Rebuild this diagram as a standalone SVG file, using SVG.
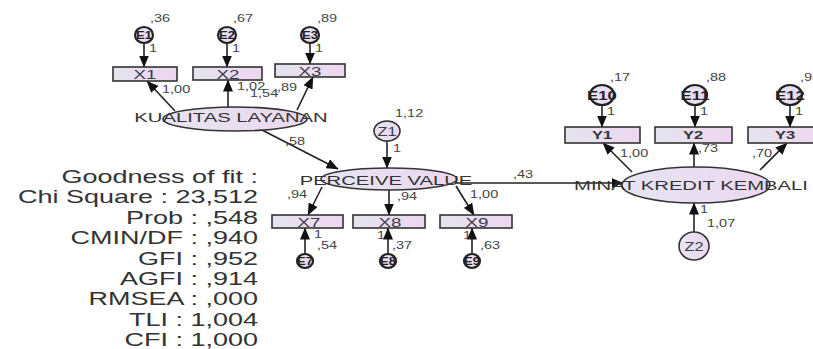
<svg xmlns="http://www.w3.org/2000/svg" width="813" height="349" viewBox="0 0 813 349">
  <defs>
    <linearGradient id="boxFill" x1="0" y1="0" x2="1" y2="0">
      <stop offset="0" stop-color="#e4e4ee"/>
      <stop offset="1" stop-color="#eed6f0"/>
    </linearGradient>
    <linearGradient id="ovalFill" x1="0" y1="0" x2="1" y2="0">
      <stop offset="0" stop-color="#e6e4f2"/>
      <stop offset="1" stop-color="#ecd8f0"/>
    </linearGradient>
    <marker id="arrow" viewBox="0 0 12 10" refX="11.5" refY="5" markerWidth="12" markerHeight="10" markerUnits="userSpaceOnUse" orient="auto">
      <path d="M0,0 L12,5 L0,10 Z" fill="#111"/>
    </marker>
    <style>
      .box { fill: url(#boxFill); stroke: #333; stroke-width: 1.6; }
      .oval { fill: url(#ovalFill); stroke: #333; stroke-width: 1.6; }
      .err { fill: url(#ovalFill); stroke: #222; stroke-width: 2.2; }
      .edge { fill: none; stroke: #222; stroke-width: 1.6; marker-end: url(#arrow); }
      text { font-family: "Liberation Sans", Arial, sans-serif; }
      .name { font-size: 13.5px; fill: #333; text-anchor: middle; }
      .var { font-size: 12.5px; fill: #3a3a4a; text-anchor: middle; }
      .yvar { font-size: 11px; font-weight: bold; fill: #333; text-anchor: middle; }
      .ename { font-size: 10px; font-weight: bold; fill: #222; text-anchor: middle; }
      .lbl { font-size: 10px; fill: #444; }
      .fit { font-size: 18px; fill: #333; text-anchor: end; }
    </style>
  </defs>

  <!-- path arrows -->
  <g id="connectors">
    <line class="edge" x1="144" y1="43" x2="144" y2="67"/>
    <line class="edge" x1="227" y1="43" x2="227" y2="67"/>
    <line class="edge" x1="310" y1="43" x2="310" y2="64"/>
    <line class="edge" x1="175" y1="111" x2="147" y2="81"/>
    <line class="edge" x1="228" y1="107" x2="228" y2="80"/>
    <line class="edge" x1="297" y1="110" x2="313" y2="77"/>
    <line class="edge" x1="262" y1="130" x2="338" y2="169"/>
    <line class="edge" x1="387" y1="141" x2="387" y2="168"/>
    <line class="edge" x1="322" y1="187" x2="308" y2="215"/>
    <line class="edge" x1="389" y1="190" x2="389" y2="215"/>
    <line class="edge" x1="456" y1="186" x2="474" y2="215"/>
    <line class="edge" x1="305" y1="254" x2="305" y2="228"/>
    <line class="edge" x1="388" y1="254" x2="388" y2="228"/>
    <line class="edge" x1="472" y1="254" x2="472" y2="228"/>
    <line class="edge" x1="456" y1="183" x2="623" y2="183"/>
    <line class="edge" x1="632" y1="172" x2="603" y2="143"/>
    <line class="edge" x1="694" y1="167" x2="694" y2="143"/>
    <line class="edge" x1="760" y1="170" x2="787" y2="143"/>
    <line class="edge" x1="602" y1="105" x2="602" y2="127"/>
    <line class="edge" x1="695" y1="105" x2="695" y2="127"/>
    <line class="edge" x1="790" y1="105" x2="790" y2="127"/>
    <line class="edge" x1="694" y1="232" x2="694" y2="203"/>
  </g>

  <!-- observed indicators -->
  <g id="X1"><rect class="box" x="113" y="67" width="64" height="14"/><text class="var" transform="translate(145,79) scale(1.5,1)">X1</text></g>
  <g id="X2"><rect class="box" x="193" y="67" width="69" height="13"/><text class="var" transform="translate(228,78.5) scale(1.5,1)">X2</text></g>
  <g id="X3"><rect class="box" x="275" y="64" width="70" height="13"/><text class="var" transform="translate(310,75.5) scale(1.5,1)">X3</text></g>
  <g id="X7"><rect class="box" x="272" y="215" width="71" height="13"/><text class="var" transform="translate(309,226.5) scale(1.5,1)">X7</text></g>
  <g id="X8"><rect class="box" x="353" y="215" width="72" height="13"/><text class="var" transform="translate(390,226.5) scale(1.5,1)">X8</text></g>
  <g id="X9"><rect class="box" x="440" y="215" width="72" height="13"/><text class="var" transform="translate(477,226.5) scale(1.5,1)">X9</text></g>
  <g id="Y1"><rect class="box" x="565" y="127" width="75" height="16"/><text class="yvar" transform="translate(602,139) scale(1.5,1)">Y1</text></g>
  <g id="Y2"><rect class="box" x="655" y="127" width="77" height="16"/><text class="yvar" transform="translate(693,139) scale(1.5,1)">Y2</text></g>
  <g id="Y3"><rect class="box" x="748" y="127" width="75" height="16"/><text class="yvar" transform="translate(785,139) scale(1.5,1)">Y3</text></g>

  <!-- latent constructs -->
  <g id="kualitas-layanan"><ellipse class="oval" cx="235" cy="119" rx="72" ry="12"/><text class="name" transform="translate(231,122) scale(1.5,1)">KUALITAS LAYANAN</text></g>
  <g id="perceive-value"><ellipse class="oval" cx="389" cy="179" rx="68" ry="11"/><text class="name" transform="translate(386,185) scale(1.5,1)">PERCEIVE VALUE</text></g>
  <g id="minat-kredit"><ellipse class="oval" cx="696" cy="185" rx="74" ry="18"/><text class="name" transform="translate(691,190) scale(1.5,1)">MINAT KREDIT KEMBALI</text></g>

  <!-- disturbances -->
  <g id="Z1"><ellipse class="oval" cx="387" cy="131" rx="13" ry="10"/><text class="var" transform="translate(387,135.5) scale(1.3,1)">Z1</text></g>
  <g id="Z2"><ellipse class="oval" cx="694" cy="246" rx="15" ry="14"/><text class="var" transform="translate(694,250.5) scale(1.3,1)">Z2</text></g>

  <!-- measurement errors -->
  <g id="E1"><ellipse class="err" cx="144" cy="35" rx="9" ry="8"/><text class="ename" transform="translate(144,39) scale(1.3,1)">E1</text></g>
  <g id="E2"><ellipse class="err" cx="227" cy="35" rx="9" ry="8"/><text class="ename" transform="translate(227,39) scale(1.3,1)">E2</text></g>
  <g id="E3"><ellipse class="err" cx="310" cy="35" rx="9" ry="8"/><text class="ename" transform="translate(310,39) scale(1.3,1)">E3</text></g>
  <g id="E7"><ellipse class="err" cx="305" cy="261" rx="8" ry="7"/><text class="ename" transform="translate(305,265) scale(1.3,1)">E7</text></g>
  <g id="E8"><ellipse class="err" cx="388" cy="261" rx="8" ry="7"/><text class="ename" transform="translate(388,265) scale(1.3,1)">E8</text></g>
  <g id="E9"><ellipse class="err" cx="472" cy="261" rx="8" ry="7"/><text class="ename" transform="translate(472,265) scale(1.3,1)">E9</text></g>
  <g id="E10"><ellipse class="err" cx="602" cy="95" rx="12" ry="10"/><text class="ename" transform="translate(602,99.5) scale(1.4,1)" style="font-size:12px">E10</text></g>
  <g id="E11"><ellipse class="err" cx="695" cy="95" rx="12" ry="10"/><text class="ename" transform="translate(695,99.5) scale(1.4,1)" style="font-size:12px">E11</text></g>
  <g id="E12"><ellipse class="err" cx="790" cy="95" rx="12" ry="10"/><text class="ename" transform="translate(790,99.5) scale(1.4,1)" style="font-size:12px">E12</text></g>

  <!-- estimates -->
  <g id="estimates">
    <text class="lbl" transform="translate(150,22) scale(1.45,1)">,36</text>
    <text class="lbl" transform="translate(233,22) scale(1.45,1)">,67</text>
    <text class="lbl" transform="translate(317,22) scale(1.45,1)">,89</text>
    <text class="lbl" transform="translate(149,52) scale(1.45,1)">1</text>
    <text class="lbl" transform="translate(232,52) scale(1.45,1)">1</text>
    <text class="lbl" transform="translate(315,52) scale(1.45,1)">1</text>
    <text class="lbl" transform="translate(162,93) scale(1.45,1)">1,00</text>
    <text class="lbl" transform="translate(237,90) scale(1.45,1)">1,02</text>
    <text class="lbl" transform="translate(250,97) scale(1.45,1)">1,54</text>
    <text class="lbl" transform="translate(277,91) scale(1.45,1)">,89</text>
    <text class="lbl" transform="translate(285,145) scale(1.45,1)">,58</text>
    <text class="lbl" transform="translate(395,117) scale(1.45,1)">1,12</text>
    <text class="lbl" transform="translate(393,152) scale(1.45,1)">1</text>
    <text class="lbl" transform="translate(287,198) scale(1.45,1)">,94</text>
    <text class="lbl" transform="translate(397,200) scale(1.45,1)">,94</text>
    <text class="lbl" transform="translate(470,198) scale(1.45,1)">1,00</text>
    <text class="lbl" transform="translate(314,238) scale(1.45,1)">1</text>
    <text class="lbl" transform="translate(317,249) scale(1.45,1)">,54</text>
    <text class="lbl" transform="translate(377,239) scale(1.45,1)">1</text>
    <text class="lbl" transform="translate(392,249) scale(1.45,1)">,37</text>
    <text class="lbl" transform="translate(463,239) scale(1.45,1)">1</text>
    <text class="lbl" transform="translate(480,249) scale(1.45,1)">,63</text>
    <text class="lbl" transform="translate(513,178) scale(1.45,1)">,43</text>
    <text class="lbl" transform="translate(610,81) scale(1.45,1)">,17</text>
    <text class="lbl" transform="translate(706,81) scale(1.45,1)">,88</text>
    <text class="lbl" transform="translate(800,81) scale(1.45,1)">,95</text>
    <text class="lbl" transform="translate(607,115) scale(1.45,1)">1</text>
    <text class="lbl" transform="translate(700,115) scale(1.45,1)">1</text>
    <text class="lbl" transform="translate(795,115) scale(1.45,1)">1</text>
    <text class="lbl" transform="translate(620,157) scale(1.45,1)">1,00</text>
    <text class="lbl" transform="translate(698,152) scale(1.45,1)">,73</text>
    <text class="lbl" transform="translate(752,157) scale(1.45,1)">,70</text>
    <text class="lbl" transform="translate(700,213) scale(1.45,1)">1</text>
    <text class="lbl" transform="translate(707,227) scale(1.45,1)">1,07</text>
  </g>

  <!-- fit statistics -->
  <g id="goodness-of-fit">
    <text class="fit" transform="translate(258,183) scale(1.5,1)">Goodness of fit :</text>
    <text class="fit" transform="translate(258,203.4) scale(1.5,1)">Chi Square : 23,512</text>
    <text class="fit" transform="translate(258,223.8) scale(1.5,1)">Prob : ,548</text>
    <text class="fit" transform="translate(258,244.2) scale(1.5,1)">CMIN/DF : ,940</text>
    <text class="fit" transform="translate(258,264.6) scale(1.5,1)">GFI : ,952</text>
    <text class="fit" transform="translate(258,285) scale(1.5,1)">AGFI : ,914</text>
    <text class="fit" transform="translate(258,305.4) scale(1.5,1)">RMSEA : ,000</text>
    <text class="fit" transform="translate(258,325.8) scale(1.5,1)">TLI : 1,004</text>
    <text class="fit" transform="translate(258,346.2) scale(1.5,1)">CFI : 1,000</text>
  </g>
</svg>
